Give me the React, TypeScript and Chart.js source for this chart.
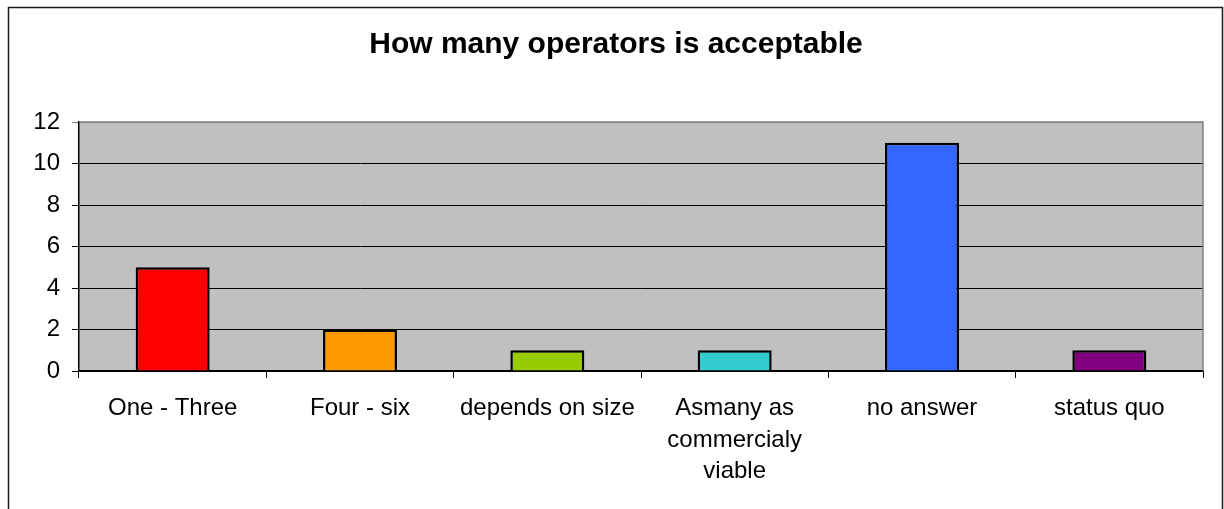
import React, { useEffect, useRef } from "react";
import { Chart, registerables } from "chart.js";

Chart.register(...registerables);

const categories: (string | string[])[] = [
  "One - Three",
  "Four - six",
  "depends on size",
  ["Asmany as", "commercialy", "viable"],
  "no answer",
  "status quo",
];
const counts = [5, 2, 1, 1, 11, 1];
const barColors = ["#FF0000", "#FF9900", "#99CC00", "#33CCCC", "#3366FF", "#800080"];
const titleText = "How many operators is acceptable";

const FONT = "'Liberation Sans', Arial, sans-serif";

const frame = {
  id: "frame",
  beforeDraw(chart: any) {
    const { ctx, chartArea } = chart;
    ctx.save();
    ctx.fillStyle = "#C0C0C0";
    ctx.fillRect(chartArea.left, chartArea.top, chartArea.right - chartArea.left, chartArea.bottom - chartArea.top);
    ctx.restore();
  },
  afterDraw(chart: any) {
    const { ctx, chartArea } = chart;
    ctx.save();
    ctx.strokeStyle = "#808080";
    ctx.lineWidth = 1.5;
    ctx.beginPath();
    ctx.moveTo(chartArea.left, chartArea.top);
    ctx.lineTo(chartArea.right, chartArea.top);
    ctx.lineTo(chartArea.right, chartArea.bottom);
    ctx.stroke();
    ctx.strokeStyle = "#1a1a1a";
    ctx.lineWidth = 1.5;
    ctx.beginPath();
    ctx.moveTo(8.5, 600);
    ctx.lineTo(8.5, 7.5);
    ctx.lineTo(1222.5, 7.5);
    ctx.lineTo(1222.5, 600);
    ctx.stroke();
    // chart title
    ctx.fillStyle = "#000";
    ctx.font = `bold 30px ${FONT}`;
    ctx.textAlign = "center";
    ctx.textBaseline = "alphabetic";
    ctx.fillText(titleText, 616, 52.5);
    ctx.restore();
  },
};

export default function App() {
  const ref = useRef<HTMLCanvasElement>(null);
  useEffect(() => {
    if (!ref.current) return;
    const chart = new Chart(ref.current, {
      type: "bar",
      data: {
        labels: categories,
        datasets: [
          {
            data: counts,
            backgroundColor: barColors,
            borderColor: "#000",
            borderWidth: 2.5,
            barPercentage: 0.395,
            categoryPercentage: 1,
          },
        ],
      },
      options: {
        responsive: false,
        animation: false,
        layout: { padding: { left: 0, right: 21, top: 122, bottom: 0 } },
        plugins: {
          legend: { display: false },
          tooltip: { enabled: false },
          title: { display: false },
        },
        scales: {
          x: {
            grid: {
              display: true,
              drawOnChartArea: false,
              drawTicks: true,
              tickLength: 7,
              color: "#000",
              offset: true,
            },
            border: { display: true, color: "#000", width: 1.5 },
            ticks: {
              color: "#000",
              font: { family: FONT, size: 24, lineHeight: 1.31 },
              padding: 15,
              maxRotation: 0,
              autoSkip: false,
            },
            afterFit: (s: any) => {
              s.height = 138;
            },
          },
          y: {
            min: 0,
            max: 12,
            ticks: {
              stepSize: 2,
              color: "#000",
              font: { family: FONT, size: 24 },
              padding: 12,
            },
            grid: {
              tickLength: 7,
              color: (c: any) => (c.tick && c.tick.value === 12 ? "#808080" : "#000"),
              lineWidth: 1,
            },
            border: { display: true, color: "#000", width: 1.5 },
            afterFit: (s: any) => {
              s.width = 79;
            },
          },
        },
      },
      plugins: [frame],
    });
    return () => chart.destroy();
  }, []);
  return (
    <div style={{ position: "fixed", left: 0, top: 0, width: 1224, height: 509, background: "#fff" }}>
      <canvas ref={ref} width={1224} height={509} style={{ display: "block" }} />
    </div>
  );
}
